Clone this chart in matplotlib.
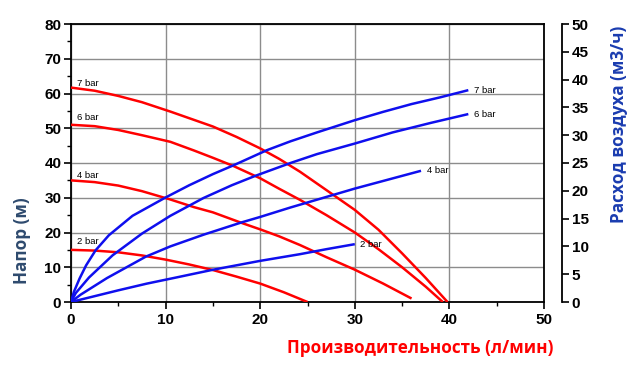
import matplotlib
matplotlib.use("Agg")
import matplotlib.pyplot as plt
from matplotlib.ticker import MultipleLocator

# ---- data ----
pressures = ["7 bar", "6 bar", "4 bar", "2 bar"]

# Head curves (flow l/min, head m)
head_x = {
    "7 bar": [0, 2.5, 5, 7.5, 10.5, 15, 17.5, 20, 22, 24.2, 27, 30, 32.5, 35, 37.5, 39.8],
    "6 bar": [0, 2.5, 5, 7.5, 10.5, 13, 15, 17.2, 20, 22, 24.2, 27, 30, 32.5, 35, 37.5, 39.3],
    "4 bar": [0, 2.5, 5, 7.5, 10.5, 13, 15, 18.2, 20, 22, 24.2, 27, 30, 33, 36],
    "2 bar": [0, 2.5, 5, 7.5, 10, 12.5, 15, 17.5, 20, 22.5, 25],
}
head_y = {
    "7 bar": [61.7, 60.8, 59.3, 57.5, 54.8, 50.5, 47.5, 44.2, 41.2, 37.5, 32.2, 26.5, 20.8, 14.0, 6.9, 0],
    "6 bar": [51.0, 50.6, 49.5, 48.0, 46.1, 43.6, 41.5, 39.1, 35.6, 32.6, 29.4, 25.0, 20.0, 15.2, 10.0, 4.4, 0],
    "4 bar": [35.0, 34.5, 33.5, 31.9, 29.5, 27.3, 25.8, 22.6, 20.9, 18.9, 16.4, 12.9, 9.3, 5.3, 1.0],
    "2 bar": [15.0, 14.8, 14.3, 13.4, 12.2, 10.8, 9.2, 7.3, 5.3, 2.8, 0],
}

# Air consumption curves (flow l/min, air m3/h)
air_x = {
    "7 bar": [0, 0.3, 0.9, 1.6, 2.6, 4.0, 6.5, 10, 12.5, 15, 17.2, 20.7, 23.2, 26, 30, 33, 36, 39, 42],
    "6 bar": [0, 0.5, 1.9, 4.4, 7.5, 10.5, 14, 17, 19.5, 23.2, 26, 30, 34, 38, 42],
    "4 bar": [0, 1, 3.8, 7.9, 10.5, 14, 18, 20, 23.2, 26, 30, 33.5, 37],
    "2 bar": [0, 5, 8, 11.1, 15, 20, 24.2, 27, 30],
}
air_y = {
    "7 bar": [0, 1.8, 4.2, 6.6, 9.3, 12.0, 15.5, 18.8, 21.0, 23.0, 24.6, 27.3, 28.9, 30.5, 32.7, 34.2, 35.6, 36.8, 38.1],
    "6 bar": [0, 1.6, 4.4, 8.4, 12.3, 15.5, 18.7, 21.0, 22.7, 25.0, 26.6, 28.5, 30.5, 32.2, 33.8],
    "4 bar": [0, 1.3, 4.3, 8.15, 10.0, 12.1, 14.3, 15.3, 17.0, 18.4, 20.4, 22.0, 23.6],
    "2 bar": [0, 2.1, 3.3, 4.4, 5.8, 7.4, 8.6, 9.5, 10.4],
}

x_label = "Производительность (л/мин)"
y_label = "Напор (м)"
y2_label = "Расход воздуха (м3/ч)"

# ---- figure ----
fig = plt.figure(figsize=(6.39, 3.79), dpi=100)
ax = fig.add_axes([71/639, 1-302/379, (544-71)/639, (302-24)/379])
ax2 = ax.twinx()

RED = "#FF0000"
BLUE = "#0F0FEE"
tick_family = ["Liberation Sans", "DejaVu Sans"]
lab_font = ["Open Sans", "DejaVu Sans"]

ax.set_xlim(0, 50)
ax.set_ylim(0, 80)
ax2.set_ylim(0, 50)

ax.xaxis.set_major_locator(MultipleLocator(10))
ax.xaxis.set_minor_locator(MultipleLocator(5))
ax.yaxis.set_major_locator(MultipleLocator(10))
ax.yaxis.set_minor_locator(MultipleLocator(5))
ax2.yaxis.set_major_locator(MultipleLocator(5))

ax.grid(True, which="major", color="#8c8c8c", linewidth=1.0)
ax.set_axisbelow(True)

for a in (ax, ax2):
    for s in a.spines.values():
        s.set_linewidth(1.3)
ax2.spines["right"].set_position(("outward", 13))
ax2.spines["left"].set_visible(False)
ax2.spines["top"].set_visible(False)
ax2.spines["bottom"].set_visible(False)

ax.tick_params(which="major", direction="out", length=5, width=1.2, pad=2)
ax.tick_params(which="minor", direction="out", length=3, width=1.0)
ax.tick_params(axis="x", which="major", pad=3)
ax2.tick_params(which="major", direction="out", length=5, width=1.2, pad=2)

for lab in ax.get_xticklabels() + ax.get_yticklabels() + ax2.get_yticklabels():
    lab.set_fontfamily(tick_family)
    lab.set_fontweight("bold")
    lab.set_fontsize(11)

for p in pressures:
    ax.plot(head_x[p], head_y[p], color=RED, linewidth=1.8, solid_capstyle="butt", zorder=3)
    ax2.plot(air_x[p], air_y[p], color=BLUE, linewidth=1.8, solid_capstyle="butt", zorder=3)

small = dict(fontsize=6.8, family=tick_family, color="black")
# red labels near left
red_lab_pos = {"7 bar": 63.0, "6 bar": 53.2, "4 bar": 36.4, "2 bar": 17.4}
for p in pressures:
    ax.text(0.6, red_lab_pos[p], p, ha="left", va="center", zorder=4, **small)
# blue labels at curve ends
for p in pressures:
    ax2.text(air_x[p][-1] + 0.6, air_y[p][-1], p, ha="left", va="center", zorder=4, **small)

fig.text(420/639, 1-348/379, x_label, ha="center", va="center", color=RED,
         fontsize=12.3, fontweight="bold", family=lab_font)
fig.text(22/639, 1-241/379, y_label, ha="center", va="center", rotation=90,
         color="#2E4A6E", fontsize=12.3, fontweight="bold", family=lab_font)
fig.text(619/639, 1-124/379, y2_label, ha="center", va="center", rotation=90,
         color="#1A3CB0", fontsize=12.3, fontweight="bold", family=lab_font)

fig.savefig("out.png", dpi=100)
